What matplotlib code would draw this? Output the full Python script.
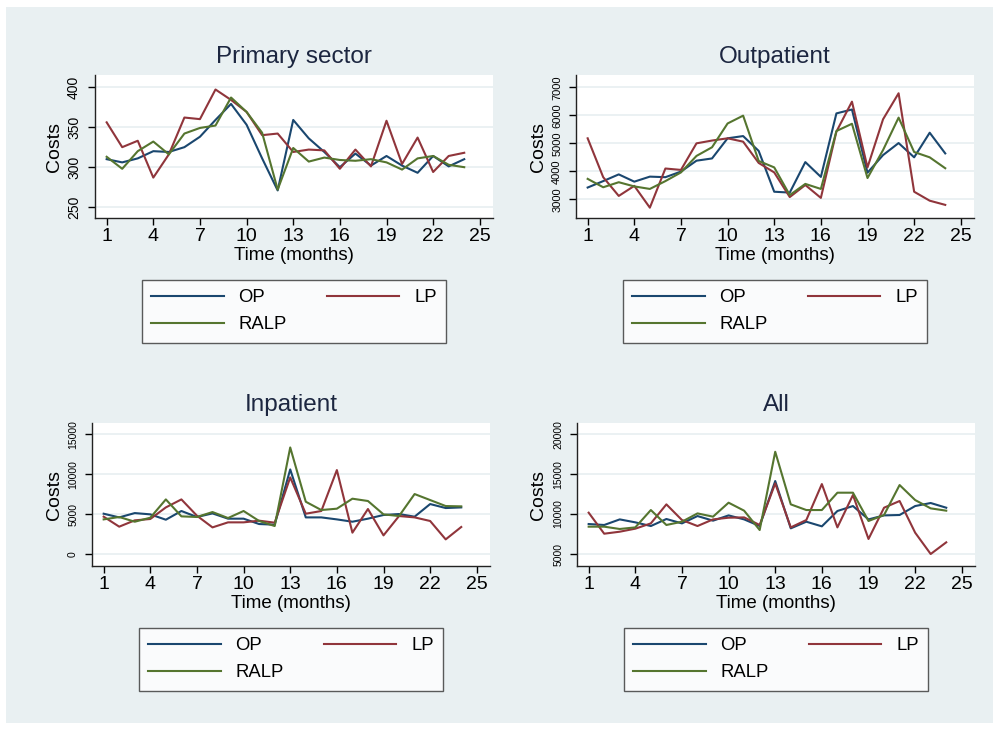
import matplotlib.pyplot as plt
from matplotlib.patches import Rectangle

# Donnees (couts par mois)
months = list(range(1, 25))
xticks = [1, 4, 7, 10, 13, 16, 19, 22, 25]

primary_op = [310, 306, 311, 320, 319, 325, 338, 359, 379, 353, 311, 271,
              359, 336, 319, 300, 317, 302, 314, 302, 293, 314, 301, 310]
primary_lp = [356, 325, 333, 287, 316, 362, 360, 397, 384, 369, 340, 342,
              319, 322, 321, 298, 322, 301, 358, 304, 337, 294, 314, 318]
primary_ralp = [313, 298, 320, 332, 316, 342, 349, 352, 387, 369, 343, 272,
                324, 307, 312, 309, 308, 310, 306, 297, 311, 314, 303, 300]

outpat_op = [3420, 3650, 3890, 3630, 3810, 3790, 3990, 4380, 4460, 5180, 5260, 4730,
             3270, 3240, 4330, 3800, 6070, 6210, 3950, 4580, 5010, 4500, 5380, 4640]
outpat_lp = [5180, 3790, 3120, 3480, 2700, 4100, 4050, 5000, 5100, 5180, 5060, 4300,
             3960, 3080, 3510, 3050, 5420, 6490, 4140, 5860, 6790, 3270, 2950, 2800]
outpat_ralp = [3730, 3430, 3610, 3460, 3370, 3650, 3960, 4550, 4860, 5710, 5990, 4370,
               4140, 3150, 3550, 3370, 5440, 5700, 3760, 4760, 5920, 4690, 4500, 4110]

inpat_op = [5040, 4580, 5120, 4960, 4290, 5380, 4630, 5080, 4420, 4420, 3750, 3670,
            10580, 4580, 4580, 4330, 4040, 4420, 4880, 5000, 4670, 6250, 5750, 5830]
inpat_lp = [4670, 3420, 4210, 4380, 5830, 6830, 4790, 3330, 3960, 3960, 4170, 3920,
            9580, 5040, 5380, 10500, 2670, 5630, 2330, 4750, 4580, 4130, 1830, 3380]
inpat_ralp = [4330, 4630, 4040, 4540, 6830, 4710, 4630, 5250, 4500, 5380, 4130, 3500,
              13330, 6540, 5500, 5670, 6920, 6630, 4960, 4750, 7500, 6750, 6000, 5960]

all_op = [8750, 8630, 9330, 8960, 8500, 9380, 8830, 9750, 9170, 9830, 9330, 8500,
          14130, 8210, 9040, 8460, 10380, 11000, 9330, 9830, 9880, 11000, 11380, 10790]
all_lp = [10170, 7540, 7790, 8170, 8830, 11210, 9250, 8500, 9330, 9540, 9580, 8630,
          13830, 8330, 9250, 13750, 8330, 12380, 6880, 10790, 11630, 7670, 5000, 6460]
all_ralp = [8420, 8420, 8130, 8330, 10500, 8630, 9040, 10080, 9670, 11420, 10420, 8000,
            17790, 11210, 10500, 10500, 12670, 12670, 9130, 9880, 13630, 11750, 10710, 10420]

plt.rcParams['font.family'] = ['Liberation Sans', 'DejaVu Sans']

bg = '#e9f0f2'
c_op = '#1a476f'
c_lp = '#90353b'
c_ralp = '#55752f'

# titre, series, ticks y, limites y, position (gauche, bas), taille ticks y, position label y
panels = [
    ('Primary sector', primary_op, primary_lp, primary_ralp,
     [250, 300, 350, 400], (236.6, 415), (0.095, 0.701), 10, -0.08),
    ('Outpatient', outpat_op, outpat_lp, outpat_ralp,
     [3000, 4000, 5000, 6000, 7000], (2332, 7440), (0.576, 0.701), 8, -0.073),
    ('Inpatient', inpat_op, inpat_lp, inpat_ralp,
     [0, 5000, 10000, 15000], (-1500, 16375), (0.092, 0.2236), 7.5, -0.073),
    ('All', all_op, all_lp, all_ralp,
     [5000, 10000, 15000, 20000], (3500, 21375), (0.577, 0.2236), 7.5, -0.075),
]

fig = plt.figure(figsize=(10, 7.29), dpi=100, facecolor='white')
fig.patches.append(Rectangle((0.006, 0.008), 0.987, 0.982, transform=fig.transFigure,
                             facecolor=bg, edgecolor='none', zorder=-10))

for title, op, lp, ralp, yt, ylim, pos, ysize, ylab_x in panels:
    ax = fig.add_axes([pos[0], pos[1], 0.398, 0.196])
    ax.set_facecolor('white')
    l1, = ax.plot(months, op, color=c_op, lw=1.5, label='OP')
    l2, = ax.plot(months, lp, color=c_lp, lw=1.5, label='LP')
    l3, = ax.plot(months, ralp, color=c_ralp, lw=1.5, label='RALP')
    ax.set_xlim(0.25, 25.85)
    ax.set_ylim(*ylim)
    ax.set_xticks(xticks)
    ax.set_yticks(yt)
    ax.set_yticklabels([str(v) for v in yt], rotation=90, va='center', fontsize=ysize)
    ax.tick_params(axis='x', labelsize=14, length=5, width=1, pad=2)
    ax.tick_params(axis='y', length=5, width=1, pad=5)
    ax.grid(axis='y', color=bg, lw=1.3)
    ax.set_axisbelow(True)
    for s in ['top', 'right']:
        ax.spines[s].set_visible(False)
    for s in ['left', 'bottom']:
        ax.spines[s].set_color('#222222')
        ax.spines[s].set_linewidth(1)
    ax.set_title(title, fontsize=17.5, color='#1c2640', pad=9)
    ax.set_xlabel('Time (months)', fontsize=13.5, labelpad=2)
    ax.set_ylabel('Costs', fontsize=14)
    ax.yaxis.set_label_coords(ylab_x, 0.5)
    leg = ax.legend([l1, l3, l2], ['OP', 'RALP', 'LP'], ncol=2, loc='upper center',
                    bbox_to_anchor=(0.5, -0.434), borderaxespad=0, fontsize=13.3,
                    handlelength=3.9, handletextpad=0.8, columnspacing=2.2,
                    labelspacing=0.55, borderpad=0.5, fancybox=False)
    leg.get_frame().set_edgecolor('#333333')
    leg.get_frame().set_linewidth(1)

plt.savefig('out.png', dpi=100, facecolor='white')
